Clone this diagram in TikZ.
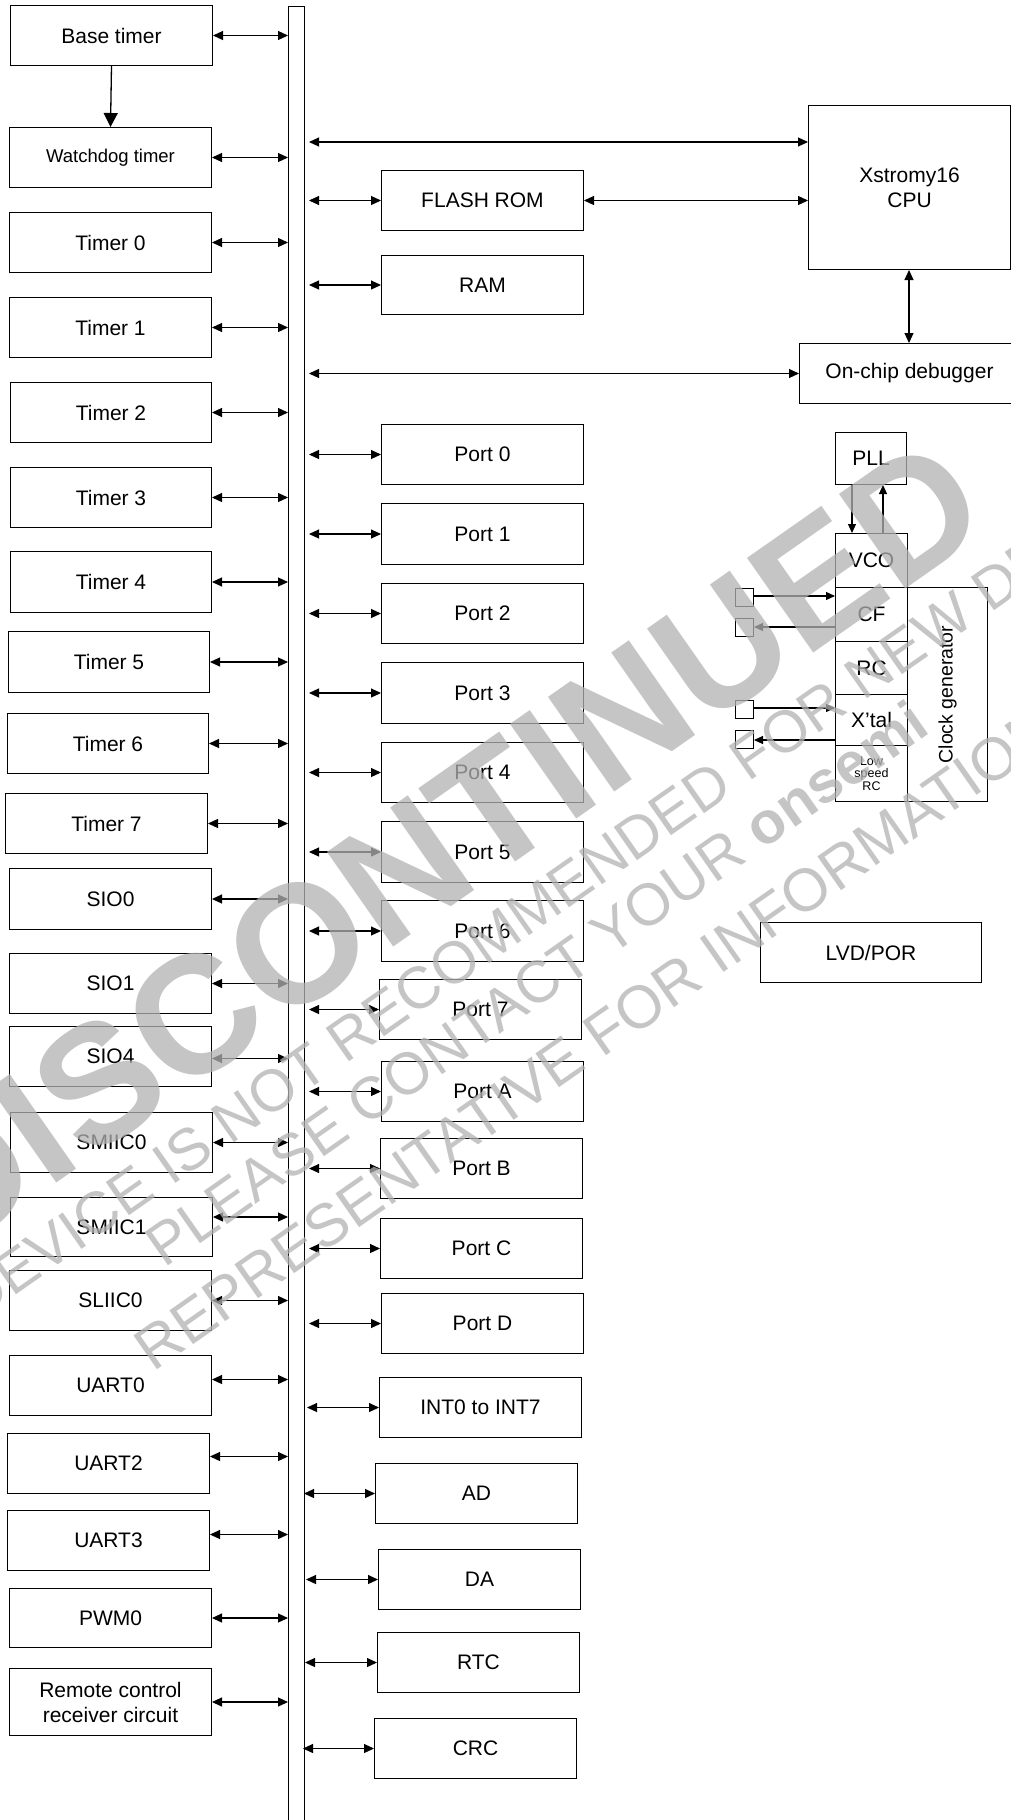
\documentclass[tikz,border=0pt]{standalone}
\usepackage{fontspec}
\setmainfont{Liberation Sans}
\usetikzlibrary{arrows.meta}
\tikzset{
  box/.style={draw, line width=1pt, inner sep=0pt, align=center,
    font=\fontsize{21}{25}\selectfont, anchor=north west},
  biarr/.style={line width=1.1pt, {Triangle[length=10pt,width=9pt]}-{Triangle[length=10pt,width=9pt]}},
  onearr/.style={line width=1.1pt, -{Triangle[length=9pt,width=8pt]}},
  bigarr/.style={line width=1.3pt, -{Triangle[length=14pt,width=14pt]}},
  wm/.style={text=black!30, opacity=0.75, inner sep=0pt, rotate=35},
}
\newcommand\bx[6]{\node[box, minimum width=#4, minimum height=#5] (#1) at (#2,#3) {#6};}
\newcommand\larr[2]{\path (#1.east) ++(0,#2) coordinate (#1A); \draw[biarr] (#1A) -- (#1A -| bus.west);}
\newcommand\rarr[3]{\path (#1.west) ++(0,#2) coordinate (#1A); \coordinate (#1S) at (#3,0); \draw[biarr] (#1S |- #1A) -- (#1A);}
\begin{document}
\begin{tikzpicture}[x=1pt,y=-1pt]
\useasboundingbox (0,0) rectangle (1011,1820);
\clip (0,0) rectangle (1011,1820);
\fill[white] (0,0) rectangle (1011,1820);
% bus
\node[draw, line width=1pt, inner sep=0pt, minimum width=16, minimum height=1840, anchor=north west] (bus) at (288,6) {};
% left column
\bx{base}{10}{5}{202}{60}{Base timer}
\node[box, font=\fontsize{18.5}{22}\selectfont, minimum width=202, minimum height=60] (wdt) at (9,127) {Watchdog timer};
\bx{t0}{9}{212}{202}{60}{Timer 0}
\bx{t1}{9}{297}{202}{60}{Timer 1}
\bx{t2}{10}{382}{201}{60}{Timer 2}
\bx{t3}{10}{467}{201}{60}{Timer 3}
\bx{t4}{10}{551}{201}{61}{Timer 4}
\bx{t5}{8}{631}{201}{61}{Timer 5}
\bx{t6}{7}{713}{201}{60}{Timer 6}
\bx{t7}{5}{793}{202}{60}{Timer 7}
\bx{sio0}{9}{868}{202}{61}{SIO0}
\bx{sio1}{9}{953}{202}{60}{SIO1}
\bx{sio4}{9}{1026}{202}{60}{SIO4}
\bx{smiic0}{10}{1112}{202}{60}{SMIIC0}
\bx{smiic1}{10}{1197}{202}{59}{SMIIC1}
\bx{sliic0}{9}{1270}{202}{60}{SLIIC0}
\bx{uart0}{9}{1355}{202}{60}{UART0}
\bx{uart2}{7}{1433}{202}{60}{UART2}
\bx{uart3}{7}{1510}{202}{60}{UART3}
\bx{pwm0}{9}{1588}{202}{59}{PWM0}
\bx{remote}{9}{1668}{202}{67}{Remote control\\receiver circuit}
\draw[bigarr] (base.south) -- (wdt.north);
\larr{base}{0}
\larr{wdt}{0}
\larr{t0}{0}
\larr{t1}{0}
\larr{t2}{0}
\larr{t3}{0}
\larr{t4}{0}
\larr{t5}{0}
\larr{t6}{0}
\larr{t7}{0}
\larr{sio0}{0}
\larr{sio1}{0}
\larr{sio4}{2}
\larr{smiic0}{0}
\larr{smiic1}{-10}
\larr{sliic0}{0}
\larr{uart0}{-6}
\larr{uart2}{-7}
\larr{uart3}{-6}
\larr{pwm0}{0}
\larr{remote}{0}
% middle column
\bx{flash}{381}{170}{202}{60}{FLASH ROM}
\bx{ram}{381}{255}{202}{59}{RAM}
\bx{p0}{381}{424}{202}{60}{Port 0}
\bx{p1}{381}{503}{202}{61}{Port 1}
\bx{p2}{381}{583}{202}{60}{Port 2}
\bx{p3}{381}{662}{202}{61}{Port 3}
\bx{p4}{381}{742}{202}{60}{Port 4}
\bx{p5}{381}{821}{202}{61}{Port 5}
\bx{p6}{381}{900}{202}{61}{Port 6}
\bx{p7}{379}{979}{202}{60}{Port 7}
\bx{pA}{381}{1061}{202}{60}{Port A}
\bx{pB}{380}{1138}{202}{60}{Port B}
\bx{pC}{380}{1218}{202}{60}{Port C}
\bx{pD}{381}{1293}{202}{60}{Port D}
\bx{int}{379}{1377}{202}{60}{INT0 to INT7}
\bx{ad}{375}{1463}{202}{60}{AD}
\bx{da}{378}{1549}{202}{60}{DA}
\bx{rtc}{377}{1632}{202}{60}{RTC}
\bx{crc}{374}{1718}{202}{60}{CRC}
\rarr{flash}{0}{309}
\rarr{ram}{0}{309}
\rarr{p0}{0}{309}
\rarr{p1}{0}{309}
\rarr{p2}{0}{309}
\rarr{p3}{0}{309}
\rarr{p4}{0}{309}
\rarr{p5}{0}{309}
\rarr{p6}{0}{309}
\rarr{p7}{0}{309}
\rarr{pA}{0}{309}
\rarr{pB}{0}{309}
\rarr{pC}{0}{309}
\rarr{pD}{0}{309}
\rarr{int}{0}{307}
\rarr{ad}{0}{304}
\rarr{da}{0}{306}
\rarr{rtc}{0}{305}
\rarr{crc}{0}{303}
% CPU and debugger
\bx{cpu}{808}{105}{202}{164}{Xstromy16\\CPU}
\bx{dbg}{799}{343}{220}{60}{On-chip debugger}
\coordinate (busR) at (309,0);
\coordinate (cpuY) at (0,142);
\draw[biarr] (busR |- cpuY) -- (cpu.west |- cpuY);
\draw[biarr] (flash.east) -- (flash.east -| cpu.west);
\draw[biarr] (busR |- dbg.west) -- (dbg.west);
\coordinate (cdx) at (909,0);
\draw[biarr] (cpu.south -| cdx) -- (dbg.north -| cdx);
% clock generator
\bx{pll}{835}{432}{71}{52}{PLL}
\bx{vco}{835}{533}{72}{54}{VCO}
\bx{cf}{835}{587}{72}{54}{CF}
\bx{rc}{835}{641}{72}{53}{RC}
\bx{xtal}{835}{694}{72}{51}{X’tal}
\node[box, font=\fontsize{12.5}{12.5}\selectfont, minimum width=72, minimum height=56] (lrc) at (835,745) {Low\\speed\\RC};
\bx{cg}{907}{587}{80}{214}{}
\node[rotate=90, font=\fontsize{19.5}{22}\selectfont, inner sep=0pt] (cgt) at (cg.center) {Clock generator};
\coordinate (dnx) at (852,0);
\coordinate (upx) at (883,0);
\draw[onearr] (pll.south -| dnx) -- (vco.north -| dnx);
\draw[onearr] (vco.north -| upx) -- (pll.south -| upx);
\tikzset{pin/.style={draw, line width=1pt, inner sep=0pt, minimum width=18, minimum height=18, anchor=north west}}
\node[pin] (pin1) at (735,588) {};
\node[pin] (pin2) at (735,618) {};
\node[pin] (pin3) at (735,700) {};
\node[pin] (pin4) at (735,730) {};
\coordinate (y1) at (0,596);
\coordinate (y2) at (0,627);
\coordinate (y3) at (0,708);
\coordinate (y4) at (0,740);
\draw[onearr] (pin1.east |- y1) -- (cf.west |- y1);
\draw[onearr] (cf.west |- y2) -- (pin2.east |- y2);
\draw[onearr] (pin3.east |- y3) -- (xtal.west |- y3);
\draw[onearr] (xtal.west |- y4) -- (pin4.east |- y4);
\bx{lvd}{760}{922}{221}{60}{LVD/POR}
% watermark
\node[wm, font=\bfseries\fontsize{168}{168}\selectfont] (wm1) at (439,845) {DISCONTINUED};
\node[wm, font=\fontsize{59}{59}\selectfont] (wm2) at (565,886) {DEVICE IS NOT RECOMMENDED FOR NEW DESIGN};
\node[wm, font=\fontsize{59}{59}\selectfont] (wm3) at (536,983) {PLEASE CONTACT YOUR \textbf{onsemi}};
\node[wm, font=\fontsize{60}{60}\selectfont] (wm4) at (595,1038) {REPRESENTATIVE FOR INFORMATION};
\end{tikzpicture}
\end{document}
